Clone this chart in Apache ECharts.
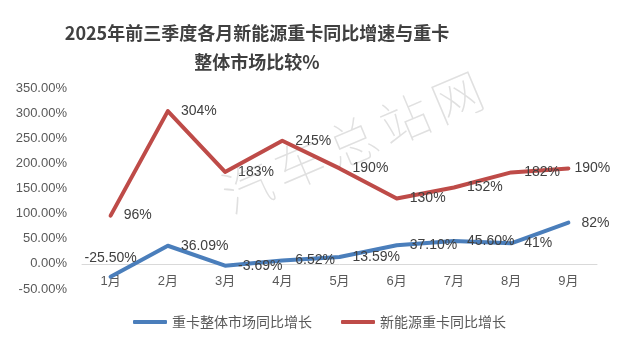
<!DOCTYPE html>
<html><head><meta charset="utf-8">
<script src="https://cdn.jsdelivr.net/npm/echarts@6/dist/echarts.min.js"></script>
<style>html,body{margin:0;padding:0;background:#fff}#c{width:639px;height:348px}</style>
</head><body><div id="c"></div>
<script>
var categories = ['1月','2月','3月','4月','5月','6月','7月','8月','9月'];
var overallGrowth = [-25.50, 36.09, -3.69, 6.52, 13.59, 37.10, 45.60, 41, 82];
var overallLabels = ['-25.50%','36.09%','-3.69%','6.52%','13.59%','37.10%','45.60%','41%','82%'];
var nevGrowth = [96, 304, 183, 245, 190, 130, 152, 182, 190];
var nevLabels = ['96%','304%','183%','245%','190%','130%','152%','182%','190%'];
var seriesNames = ['重卡整体市场同比增长','新能源重卡同比增长'];
var titleText = '2025年前三季度各月新能源重卡同比增速与重卡\n整体市场比较%';
var watermarkText = '汽车总站网';

var chart = echarts.init(document.getElementById('c'), null, {renderer:'canvas'});
var font = '"Liberation Sans", "Noto Sans CJK SC", sans-serif';
var blueData = overallGrowth.map(function(v,i){
  var d = {value:v};
  if (i===0) d.label = {position:'top', distance:11};
  return d;
});
var redData = nevGrowth.map(function(v,i){
  var d = {value:v};
  if (i===8) d.label = {distance:6};
  return d;
});
var wm = watermarkText.split('').map(function(ch,i){
  return {type:'text', x:247 + i*52.5, y:187 - i*22.5, rotation:23*Math.PI/180, z:-1, silent:true,
    style:{text:ch, fontSize:50, fill:'#e0e0e0', align:'center', verticalAlign:'middle',
      fontFamily:'"Noto Sans CJK SC", sans-serif', fontWeight:100}};
});
chart.setOption({
  animation:false,
  title:{text:titleText, left:252, top:14, textAlign:'center',
    textStyle:{fontSize:18, fontWeight:'bold', color:'#404040', lineHeight:29, fontFamily:'"Noto Sans CJK SC", sans-serif'}},
  graphic:wm,
  legend:{bottom:14, left:'center', itemWidth:34, itemHeight:4, itemGap:29, itemTextGap:3, icon:'roundRect',
    textStyle:{fontSize:14, color:'#595959', fontFamily:'"Noto Sans CJK SC", sans-serif'},
    data:seriesNames},
  grid:{left:82, right:42, top:88, bottom:59},
  xAxis:{type:'category', data:categories, boundaryGap:true,
    axisLine:{show:true, onZero:true, lineStyle:{color:'#d9d9d9', width:1}},
    axisTick:{show:false},
    axisLabel:{color:'#595959', fontSize:13, margin:-14, fontFamily:font}},
  yAxis:{type:'value', min:-50, max:350, interval:50,
    splitLine:{show:false}, axisLine:{show:false}, axisTick:{show:false},
    axisLabel:{color:'#595959', fontSize:13, margin:15, fontFamily:font,
      formatter:function(v){return v.toFixed(2)+'%';}}},
  series:[
    {name:seriesNames[0], type:'line', data:blueData, smooth:false, showSymbol:true, symbol:'circle', symbolSize:0.1,
      lineStyle:{color:'#4a7ebb', width:4, cap:'round', join:'round'}, itemStyle:{color:'#4a7ebb'},
      label:{show:true, position:'right', distance:13, fontSize:14, color:'#404040', fontFamily:font,
        formatter:function(p){return overallLabels[p.dataIndex];}}},
    {name:seriesNames[1], type:'line', data:redData, smooth:false, showSymbol:true, symbol:'circle', symbolSize:0.1,
      lineStyle:{color:'#be4b48', width:4, cap:'round', join:'round'}, itemStyle:{color:'#be4b48'},
      label:{show:true, position:'right', distance:13, fontSize:14, color:'#404040', fontFamily:font,
        formatter:function(p){return nevLabels[p.dataIndex];}}}
  ]
});
</script></body></html>
